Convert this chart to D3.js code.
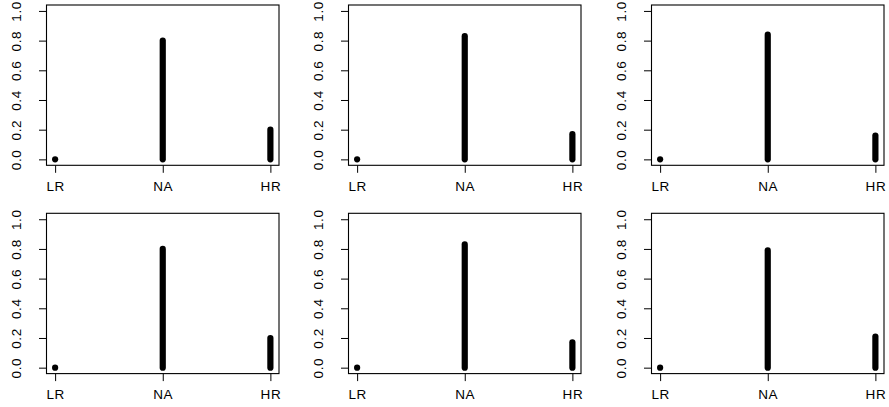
<!DOCTYPE html>
<html>
<head>
<meta charset="utf-8">
<script src="https://cdn.jsdelivr.net/npm/d3@7"></script>
<style>
  html, body { margin: 0; padding: 0; background: #fff; }
  svg { display: block; }
  text { font-family: "Liberation Sans", Arial, Helvetica, sans-serif; fill: #000; }
</style>
</head>
<body>
<svg id="chart" width="889" height="407"></svg>
<script>
// ---- data ----
const categories = ["LR", "NA", "HR"];
const panel1 = [0, 0.80, 0.20];
const panel2 = [0, 0.83, 0.17];
const panel3 = [0, 0.84, 0.16];
const panel4 = [0, 0.80, 0.20];
const panel5 = [0, 0.83, 0.17];
const panel6 = [0, 0.79, 0.21];
const panels = [panel1, panel2, panel3, panel4, panel5, panel6];
const yTicks = [0, 0.2, 0.4, 0.6, 0.8, 1.0];
const yTickLabels = ["0.0", "0.2", "0.4", "0.6", "0.8", "1.0"];

// ---- layout ----
const colLeft = [46.5, 348.5, 651.5];
const rowTop = [5, 213.3];
const plotW = 232.5;
const plotH = 160.3;
const fontSize = 13.5;
const tickLen = 7.5;

const svg = d3.select("#chart");

panels.forEach((vals, i) => {
  const r = Math.floor(i / 3), c = i % 3;
  const g = svg.append("g")
    .attr("transform", `translate(${colLeft[c]},${rowTop[r]})`);

  const x = d3.scalePoint().domain(categories).range([0, plotW]).padding(0.08);
  const y = d3.scaleLinear().domain([-0.04, 1.04]).range([plotH, 0]);

  // bars (type = "h")
  g.selectAll("line.bar").data(categories.map((cat, k) => ({cat, v: vals[k]})))
    .enter().append("line")
    .attr("class", "bar")
    .attr("x1", d => x(d.cat)).attr("x2", d => x(d.cat))
    .attr("y1", y(0)).attr("y2", d => y(d.v))
    .attr("stroke", "#000")
    .attr("stroke-width", 6.2)
    .attr("stroke-linecap", "round");

  // y axis
  const ya = g.append("g").call(
    d3.axisLeft(y).tickValues(yTicks)
      .tickFormat((d, k) => yTickLabels[k])
      .tickSize(tickLen)
  );
  ya.select(".domain").remove();
  ya.selectAll(".tick line").attr("stroke", "#000");
  ya.selectAll(".tick text")
    .attr("transform", "rotate(-90)")
    .attr("x", 0).attr("y", -25.5).attr("dy", 0)
    .attr("text-anchor", "middle")
    .style("font-size", fontSize + "px")
    .style("letter-spacing", "0.6px")
    .style("font-family", "'Liberation Sans', Arial, sans-serif")
    .attr("fill", "#000");

  // x axis
  const xa = g.append("g").attr("transform", `translate(0,${plotH})`).call(
    d3.axisBottom(x).tickSize(tickLen)
  );
  xa.select(".domain").remove();
  xa.selectAll(".tick line").attr("stroke", "#000");
  xa.selectAll(".tick text")
    .attr("y", 25.5).attr("dy", 0)
    .style("font-size", fontSize + "px")
    .style("letter-spacing", "0.6px")
    .style("font-family", "'Liberation Sans', Arial, sans-serif")
    .attr("fill", "#000");

  // box
  g.append("rect")
    .attr("x", 0).attr("y", 0)
    .attr("width", plotW).attr("height", plotH)
    .attr("fill", "none")
    .attr("stroke", "#000")
    .attr("stroke-width", 1.1);
});
</script>
</body>
</html>
